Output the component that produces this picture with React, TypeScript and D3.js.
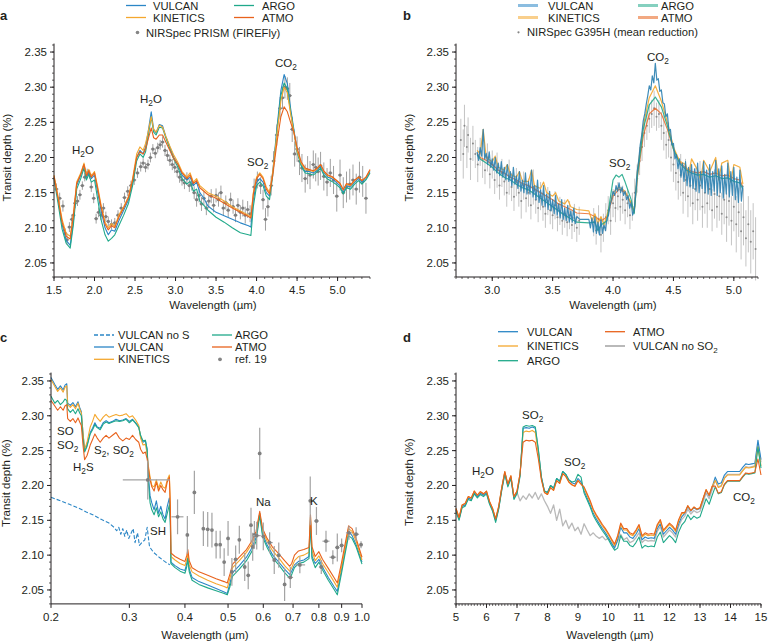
import * as d3 from "d3";

type P = [number, number];

const FONT = "'Liberation Sans', Arial, Helvetica, sans-serif";
const INK = "#231f20";
const FS = 11.5;
const LFS = 11.2;
const COL = {
  vulcan: "#2b86c6",
  kinetics: "#f4a72e",
  argo: "#20a98a",
  atmo: "#e8621c",
  obs: "#858585",
  noSO2: "#b9b9b9",
};

// ---------- panel a : NIRSpec PRISM ----------
const vulcanA: P[] = [
  [1.5, 2.172], [1.55, 2.14], [1.6, 2.105], [1.65, 2.082], [1.7, 2.075], [1.74, 2.11], [1.78, 2.16], [1.83, 2.175],
  [1.87, 2.19], [1.9, 2.172], [1.93, 2.18], [1.96, 2.17], [2.0, 2.175], [2.04, 2.15], [2.08, 2.125], [2.13, 2.1],
  [2.17, 2.09], [2.21, 2.097], [2.25, 2.095], [2.3, 2.11], [2.36, 2.125], [2.42, 2.14], [2.47, 2.165], [2.52, 2.2],
  [2.56, 2.21], [2.6, 2.205], [2.63, 2.215], [2.66, 2.235], [2.7, 2.265], [2.73, 2.24], [2.76, 2.235], [2.8, 2.247],
  [2.84, 2.245], [2.88, 2.23], [2.93, 2.215], [2.98, 2.2], [3.03, 2.19], [3.08, 2.175], [3.14, 2.168], [3.18, 2.172],
  [3.22, 2.16], [3.26, 2.165], [3.3, 2.15], [3.35, 2.142], [3.4, 2.131], [3.5, 2.122], [3.6, 2.117], [3.7, 2.112],
  [3.8, 2.107], [3.9, 2.103], [3.93, 2.101], [3.96, 2.14], [4.0, 2.165], [4.04, 2.17], [4.08, 2.165], [4.12, 2.15],
  [4.16, 2.145], [4.2, 2.18], [4.25, 2.24], [4.3, 2.295], [4.34, 2.318], [4.38, 2.305], [4.42, 2.27], [4.46, 2.24],
  [4.5, 2.21], [4.55, 2.19], [4.6, 2.18], [4.65, 2.18], [4.7, 2.178], [4.75, 2.182], [4.79, 2.188], [4.83, 2.178],
  [4.88, 2.172], [4.93, 2.17], [4.98, 2.165], [5.03, 2.16], [5.07, 2.15], [5.11, 2.16], [5.16, 2.158], [5.21, 2.165],
  [5.26, 2.17], [5.3, 2.165], [5.35, 2.17], [5.4, 2.18],
];
const argoA: P[] = [
  [1.5, 2.17], [1.55, 2.135], [1.6, 2.098], [1.65, 2.078], [1.7, 2.071], [1.74, 2.105], [1.78, 2.155], [1.83, 2.17],
  [1.87, 2.185], [1.9, 2.168], [1.93, 2.176], [1.96, 2.165], [2.0, 2.168], [2.04, 2.14], [2.08, 2.112], [2.13, 2.09],
  [2.17, 2.081], [2.21, 2.085], [2.25, 2.09], [2.3, 2.103], [2.36, 2.118], [2.42, 2.135], [2.47, 2.16], [2.52, 2.195],
  [2.56, 2.205], [2.6, 2.2], [2.63, 2.208], [2.66, 2.228], [2.7, 2.258], [2.73, 2.236], [2.76, 2.232], [2.8, 2.243],
  [2.84, 2.242], [2.88, 2.228], [2.93, 2.212], [2.98, 2.197], [3.03, 2.186], [3.08, 2.17], [3.14, 2.162], [3.18, 2.166],
  [3.22, 2.152], [3.26, 2.155], [3.3, 2.138], [3.35, 2.132], [3.4, 2.125], [3.5, 2.115], [3.6, 2.108], [3.7, 2.1],
  [3.8, 2.093], [3.9, 2.09], [3.93, 2.089], [3.96, 2.13], [4.0, 2.16], [4.04, 2.165], [4.08, 2.16], [4.12, 2.145],
  [4.16, 2.14], [4.2, 2.175], [4.25, 2.235], [4.3, 2.288], [4.34, 2.306], [4.38, 2.298], [4.42, 2.265], [4.46, 2.238],
  [4.5, 2.208], [4.55, 2.188], [4.6, 2.178], [4.65, 2.177], [4.7, 2.175], [4.75, 2.18], [4.79, 2.185], [4.83, 2.175],
  [4.88, 2.169], [4.93, 2.166], [4.98, 2.162], [5.03, 2.157], [5.07, 2.148], [5.11, 2.157], [5.16, 2.155], [5.21, 2.162],
  [5.26, 2.167], [5.3, 2.162], [5.35, 2.168], [5.4, 2.178],
];
const kineticsA: P[] = [
  [1.5, 2.175], [1.55, 2.145], [1.6, 2.112], [1.65, 2.092], [1.7, 2.088], [1.74, 2.12], [1.78, 2.165], [1.83, 2.178],
  [1.87, 2.192], [1.9, 2.176], [1.93, 2.183], [1.96, 2.174], [2.0, 2.18], [2.04, 2.158], [2.08, 2.133], [2.13, 2.108],
  [2.17, 2.1], [2.21, 2.106], [2.25, 2.102], [2.3, 2.118], [2.36, 2.13], [2.42, 2.145], [2.47, 2.17], [2.52, 2.205],
  [2.56, 2.215], [2.6, 2.21], [2.63, 2.22], [2.66, 2.235], [2.7, 2.258], [2.73, 2.24], [2.76, 2.236], [2.8, 2.246],
  [2.84, 2.243], [2.88, 2.23], [2.93, 2.216], [2.98, 2.203], [3.03, 2.193], [3.08, 2.18], [3.14, 2.172], [3.18, 2.178],
  [3.22, 2.165], [3.26, 2.17], [3.3, 2.16], [3.35, 2.155], [3.4, 2.15], [3.5, 2.145], [3.6, 2.138], [3.7, 2.13],
  [3.8, 2.124], [3.9, 2.118], [3.93, 2.116], [3.96, 2.15], [4.0, 2.172], [4.04, 2.178], [4.08, 2.172], [4.12, 2.158],
  [4.16, 2.15], [4.2, 2.18], [4.25, 2.232], [4.3, 2.28], [4.34, 2.3], [4.38, 2.292], [4.42, 2.262], [4.46, 2.236],
  [4.5, 2.21], [4.55, 2.192], [4.6, 2.183], [4.65, 2.182], [4.7, 2.18], [4.75, 2.184], [4.79, 2.19], [4.83, 2.18],
  [4.88, 2.174], [4.93, 2.172], [4.98, 2.168], [5.03, 2.163], [5.07, 2.154], [5.11, 2.162], [5.16, 2.16], [5.21, 2.167],
  [5.26, 2.172], [5.3, 2.167], [5.35, 2.172], [5.4, 2.182],
];
const atmoA: P[] = [
  [1.5, 2.173], [1.55, 2.142], [1.6, 2.108], [1.65, 2.088], [1.7, 2.084], [1.74, 2.118], [1.78, 2.163], [1.83, 2.176],
  [1.87, 2.19], [1.9, 2.174], [1.93, 2.181], [1.96, 2.172], [2.0, 2.178], [2.04, 2.155], [2.08, 2.13], [2.13, 2.105],
  [2.17, 2.097], [2.21, 2.103], [2.25, 2.1], [2.3, 2.115], [2.36, 2.128], [2.42, 2.143], [2.47, 2.168], [2.52, 2.2],
  [2.56, 2.208], [2.6, 2.205], [2.63, 2.212], [2.66, 2.225], [2.7, 2.242], [2.73, 2.228], [2.76, 2.226], [2.8, 2.232],
  [2.84, 2.232], [2.88, 2.222], [2.93, 2.21], [2.98, 2.198], [3.03, 2.19], [3.08, 2.178], [3.14, 2.17], [3.18, 2.175],
  [3.22, 2.163], [3.26, 2.167], [3.3, 2.157], [3.35, 2.152], [3.4, 2.147], [3.5, 2.142], [3.6, 2.135], [3.7, 2.128],
  [3.8, 2.122], [3.9, 2.116], [3.93, 2.114], [3.96, 2.148], [4.0, 2.17], [4.04, 2.176], [4.08, 2.17], [4.12, 2.155],
  [4.16, 2.148], [4.2, 2.175], [4.25, 2.22], [4.3, 2.258], [4.34, 2.272], [4.38, 2.265], [4.42, 2.25], [4.46, 2.236],
  [4.5, 2.214], [4.55, 2.194], [4.6, 2.185], [4.65, 2.183], [4.7, 2.181], [4.75, 2.185], [4.79, 2.19], [4.83, 2.181],
  [4.88, 2.175], [4.93, 2.173], [4.98, 2.168], [5.03, 2.163], [5.07, 2.154], [5.11, 2.163], [5.16, 2.161], [5.21, 2.168],
  [5.26, 2.172], [5.3, 2.167], [5.35, 2.172], [5.4, 2.183],
];
// wavelength, depth, error
const obsA: [number, number, number][] = [
  [1.53, 2.155, 0.008], [1.57, 2.142, 0.008], [1.61, 2.131, 0.008], [1.64, 2.092, 0.007], [1.66, 2.083, 0.007],
  [1.69, 2.101, 0.007], [1.72, 2.112, 0.007], [1.74, 2.118, 0.007], [1.76, 2.135, 0.007], [1.79, 2.138, 0.007],
  [1.82, 2.147, 0.007], [1.85, 2.16, 0.006], [1.88, 2.172, 0.006], [1.91, 2.178, 0.006], [1.94, 2.176, 0.006],
  [1.96, 2.158, 0.007], [1.99, 2.142, 0.007], [2.02, 2.113, 0.007], [2.05, 2.122, 0.007], [2.08, 2.118, 0.007],
  [2.11, 2.128, 0.007], [2.14, 2.116, 0.007], [2.17, 2.109, 0.007], [2.21, 2.105, 0.007], [2.25, 2.107, 0.007],
  [2.29, 2.118, 0.007], [2.33, 2.128, 0.007], [2.37, 2.143, 0.007], [2.41, 2.152, 0.007], [2.45, 2.16, 0.007],
  [2.49, 2.168, 0.007], [2.53, 2.178, 0.007], [2.57, 2.187, 0.007], [2.6, 2.192, 0.007], [2.63, 2.186, 0.007],
  [2.66, 2.19, 0.007], [2.69, 2.2, 0.007], [2.72, 2.212, 0.007], [2.75, 2.206, 0.007], [2.78, 2.214, 0.007],
  [2.81, 2.218, 0.007], [2.84, 2.222, 0.008], [2.87, 2.21, 0.008], [2.9, 2.203, 0.008], [2.93, 2.196, 0.008],
  [2.96, 2.19, 0.008], [2.99, 2.186, 0.008], [3.02, 2.18, 0.008], [3.05, 2.172, 0.008], [3.08, 2.168, 0.008],
  [3.11, 2.164, 0.009], [3.14, 2.17, 0.009], [3.17, 2.16, 0.009], [3.2, 2.162, 0.009], [3.23, 2.15, 0.009],
  [3.26, 2.14, 0.01], [3.29, 2.146, 0.01], [3.32, 2.134, 0.01], [3.35, 2.142, 0.01], [3.38, 2.128, 0.01],
  [3.41, 2.138, 0.01], [3.44, 2.145, 0.01], [3.47, 2.132, 0.01], [3.5, 2.146, 0.01], [3.53, 2.14, 0.01],
  [3.56, 2.15, 0.01], [3.59, 2.128, 0.01], [3.62, 2.136, 0.01], [3.65, 2.125, 0.01], [3.68, 2.14, 0.01],
  [3.71, 2.13, 0.01], [3.74, 2.118, 0.01], [3.77, 2.132, 0.01], [3.8, 2.122, 0.01], [3.83, 2.128, 0.012],
  [3.86, 2.118, 0.012], [3.89, 2.126, 0.012], [3.92, 2.12, 0.012], [3.97, 2.158, 0.012], [4.01, 2.168, 0.012],
  [4.05, 2.16, 0.012], [4.08, 2.14, 0.014], [4.11, 2.112, 0.016], [4.14, 2.13, 0.014], [4.18, 2.16, 0.014],
  [4.21, 2.195, 0.014], [4.25, 2.232, 0.015], [4.29, 2.27, 0.016], [4.32, 2.285, 0.016], [4.35, 2.3, 0.016],
  [4.38, 2.298, 0.016], [4.41, 2.288, 0.018], [4.44, 2.24, 0.018], [4.47, 2.205, 0.018], [4.5, 2.212, 0.018],
  [4.53, 2.195, 0.02], [4.56, 2.185, 0.02], [4.6, 2.17, 0.02], [4.63, 2.182, 0.02], [4.66, 2.175, 0.02],
  [4.7, 2.19, 0.02], [4.73, 2.186, 0.02], [4.76, 2.18, 0.02], [4.79, 2.188, 0.02], [4.83, 2.173, 0.02],
  [4.87, 2.165, 0.02], [4.91, 2.178, 0.02], [4.95, 2.168, 0.02], [4.99, 2.145, 0.022], [5.03, 2.175, 0.022],
  [5.07, 2.15, 0.022], [5.11, 2.158, 0.022], [5.15, 2.162, 0.022], [5.19, 2.168, 0.022], [5.23, 2.155, 0.022],
  [5.27, 2.172, 0.022], [5.31, 2.166, 0.022], [5.35, 2.142, 0.022],
];

// ---------- panel b : NIRSpec G395H ----------
const vulcanB: P[] = [
  [2.875, 2.208], [2.8875, 2.196], [2.9, 2.214], [2.9125, 2.202], [2.925, 2.24], [2.9375, 2.198], [2.95, 2.206],
  [2.9625, 2.19], [2.975, 2.208], [2.9875, 2.186], [3.0, 2.198], [3.0125, 2.182], [3.025, 2.2], [3.0375, 2.178],
  [3.05, 2.192], [3.0625, 2.174], [3.075, 2.194], [3.0875, 2.172], [3.1, 2.186], [3.1125, 2.168], [3.125, 2.19],
  [3.1375, 2.166], [3.15, 2.18], [3.1625, 2.16], [3.175, 2.186], [3.1875, 2.162], [3.2, 2.174], [3.2125, 2.156],
  [3.225, 2.18], [3.2375, 2.152], [3.25, 2.168], [3.2625, 2.15], [3.275, 2.178], [3.2875, 2.148], [3.3, 2.166],
  [3.3125, 2.148], [3.325, 2.182], [3.3375, 2.144], [3.35, 2.16], [3.3625, 2.14], [3.375, 2.168], [3.3875, 2.136],
  [3.4, 2.154], [3.4125, 2.132], [3.425, 2.16], [3.4375, 2.13], [3.45, 2.148], [3.4625, 2.126], [3.475, 2.152],
  [3.4875, 2.124], [3.5, 2.14], [3.5125, 2.12], [3.525, 2.146], [3.5375, 2.118], [3.55, 2.134], [3.5625, 2.114],
  [3.575, 2.14], [3.5875, 2.112], [3.6, 2.128], [3.6125, 2.11], [3.625, 2.132], [3.6375, 2.108], [3.65, 2.124],
  [3.6625, 2.108], [3.675, 2.128], [3.6875, 2.106], [3.7, 2.116], [3.725, 2.112], [3.8, 2.112], [3.8125, 2.1],
  [3.825, 2.114], [3.8375, 2.094], [3.85, 2.116], [3.8625, 2.092], [3.875, 2.108], [3.8875, 2.09], [3.9, 2.112],
  [3.9125, 2.092], [3.925, 2.104], [3.9375, 2.096], [3.95, 2.114], [3.9625, 2.118], [3.975, 2.132], [3.9875, 2.14],
  [4.0, 2.152], [4.0125, 2.146], [4.025, 2.16], [4.0375, 2.152], [4.05, 2.164], [4.0625, 2.15], [4.075, 2.158],
  [4.0875, 2.146], [4.1, 2.152], [4.1125, 2.14], [4.125, 2.146], [4.1375, 2.128], [4.15, 2.136], [4.1625, 2.118],
  [4.175, 2.124], [4.1875, 2.15], [4.2, 2.18], [4.2125, 2.196], [4.225, 2.218], [4.2375, 2.232], [4.25, 2.252],
  [4.2625, 2.262], [4.275, 2.276], [4.2875, 2.288], [4.3, 2.302], [4.3125, 2.296], [4.325, 2.316], [4.3375, 2.306],
  [4.35, 2.334], [4.3625, 2.31], [4.375, 2.312], [4.3875, 2.294], [4.4, 2.296], [4.4125, 2.278], [4.425, 2.276],
  [4.4375, 2.258], [4.45, 2.262], [4.4625, 2.238], [4.475, 2.24], [4.4875, 2.218], [4.5, 2.22], [4.5125, 2.198],
  [4.525, 2.204], [4.5375, 2.184], [4.55, 2.198], [4.5625, 2.172], [4.575, 2.192], [4.5875, 2.166], [4.6, 2.194],
  [4.6125, 2.16], [4.625, 2.186], [4.6375, 2.158], [4.65, 2.19], [4.6625, 2.156], [4.675, 2.184], [4.6875, 2.152],
  [4.7, 2.192], [4.7125, 2.15], [4.725, 2.18], [4.7375, 2.156], [4.75, 2.194], [4.7625, 2.15], [4.775, 2.182],
  [4.7875, 2.148], [4.8, 2.19], [4.8125, 2.146], [4.825, 2.18], [4.8375, 2.152], [4.85, 2.196], [4.8625, 2.146],
  [4.875, 2.184], [4.8875, 2.15], [4.9, 2.188], [4.9125, 2.142], [4.925, 2.176], [4.9375, 2.148], [4.95, 2.192],
  [4.9625, 2.144], [4.975, 2.18], [4.9875, 2.146], [5.0, 2.186], [5.0125, 2.14], [5.025, 2.172], [5.0375, 2.136],
  [5.05, 2.182], [5.0625, 2.138], [5.075, 2.16],
];
const kineticsB: P[] = [
  [2.875, 2.21], [2.9, 2.205], [2.925, 2.24], [2.95, 2.2], [3.0, 2.194], [3.025, 2.202], [3.05, 2.186], [3.1, 2.182],
  [3.125, 2.19], [3.15, 2.176], [3.2, 2.172], [3.225, 2.18], [3.25, 2.166], [3.3, 2.166], [3.325, 2.182], [3.35, 2.16],
  [3.4, 2.156], [3.425, 2.165], [3.45, 2.15], [3.5, 2.145], [3.525, 2.15], [3.55, 2.138], [3.6, 2.134], [3.625, 2.14],
  [3.65, 2.13], [3.7, 2.126], [3.8, 2.124], [3.825, 2.11], [3.85, 2.12], [3.875, 2.106], [3.9, 2.116], [3.925, 2.104],
  [3.95, 2.118], [4.0, 2.15], [4.05, 2.158], [4.1, 2.152], [4.15, 2.135], [4.175, 2.122], [4.2, 2.178], [4.25, 2.245],
  [4.3, 2.285], [4.35, 2.302], [4.4, 2.28], [4.45, 2.25], [4.5, 2.215], [4.55, 2.195], [4.6, 2.19], [4.625, 2.175],
  [4.65, 2.198], [4.7, 2.182], [4.725, 2.168], [4.75, 2.196], [4.8, 2.18], [4.85, 2.2], [4.875, 2.168], [4.9, 2.192],
  [4.95, 2.196], [4.975, 2.165], [5.0, 2.19], [5.05, 2.186], [5.075, 2.162],
];
const argoB: P[] = [
  [2.875, 2.204], [2.9, 2.198], [2.95, 2.192], [3.0, 2.186], [3.05, 2.178], [3.1, 2.172], [3.15, 2.168], [3.2, 2.162],
  [3.25, 2.157], [3.3, 2.154], [3.35, 2.148], [3.4, 2.142], [3.45, 2.136], [3.5, 2.13], [3.55, 2.124], [3.6, 2.118],
  [3.65, 2.113], [3.7, 2.108], [3.8, 2.107], [3.85, 2.108], [3.875, 2.096], [3.9, 2.104], [3.95, 2.11], [3.975, 2.14],
  [4.0, 2.168], [4.025, 2.175], [4.05, 2.172], [4.075, 2.176], [4.1, 2.165], [4.15, 2.14], [4.175, 2.12], [4.2, 2.172],
  [4.25, 2.24], [4.3, 2.275], [4.35, 2.286], [4.4, 2.272], [4.45, 2.245], [4.5, 2.212], [4.55, 2.192], [4.6, 2.183],
  [4.65, 2.178], [4.7, 2.175], [4.75, 2.176], [4.8, 2.172], [4.85, 2.174], [4.9, 2.17], [4.95, 2.171], [5.0, 2.166],
  [5.05, 2.164], [5.075, 2.155],
];
const atmoB: P[] = [
  [2.875, 2.206], [2.9, 2.2], [2.95, 2.196], [3.0, 2.19], [3.05, 2.182], [3.1, 2.178], [3.15, 2.172], [3.2, 2.168],
  [3.25, 2.163], [3.3, 2.16], [3.35, 2.155], [3.4, 2.15], [3.45, 2.145], [3.5, 2.14], [3.55, 2.134], [3.6, 2.13],
  [3.65, 2.126], [3.7, 2.121], [3.8, 2.12], [3.85, 2.116], [3.9, 2.11], [3.95, 2.115], [4.0, 2.145], [4.05, 2.155],
  [4.1, 2.15], [4.15, 2.135], [4.175, 2.122], [4.2, 2.17], [4.25, 2.23], [4.3, 2.262], [4.35, 2.27], [4.4, 2.262],
  [4.45, 2.24], [4.5, 2.212], [4.55, 2.194], [4.6, 2.185], [4.65, 2.18], [4.7, 2.178], [4.75, 2.18], [4.8, 2.176],
  [4.85, 2.178], [4.9, 2.174], [4.95, 2.175], [5.0, 2.17], [5.05, 2.168], [5.075, 2.158],
];
const obsB: [number, number, number][] = [
  [2.74, 2.225, 0.03], [2.76, 2.205, 0.035], [2.77, 2.245, 0.03], [2.79, 2.215, 0.03], [2.8, 2.232, 0.025],
  [2.82, 2.198, 0.03], [2.84, 2.22, 0.025], [2.86, 2.205, 0.02], [2.88, 2.19, 0.025], [2.9, 2.208, 0.02],
  [2.92, 2.196, 0.025], [2.94, 2.182, 0.02], [2.96, 2.2, 0.02], [2.98, 2.176, 0.02], [3.0, 2.19, 0.02],
  [3.02, 2.168, 0.02], [3.04, 2.182, 0.025], [3.06, 2.16, 0.02], [3.08, 2.178, 0.02], [3.1, 2.166, 0.02],
  [3.12, 2.15, 0.02], [3.14, 2.172, 0.025], [3.16, 2.158, 0.02], [3.18, 2.144, 0.02], [3.2, 2.165, 0.02],
  [3.22, 2.15, 0.02], [3.24, 2.138, 0.025], [3.26, 2.16, 0.02], [3.28, 2.142, 0.02], [3.3, 2.15, 0.02],
  [3.32, 2.132, 0.02], [3.34, 2.158, 0.025], [3.36, 2.14, 0.02], [3.38, 2.128, 0.02], [3.4, 2.145, 0.02],
  [3.42, 2.13, 0.02], [3.44, 2.12, 0.02], [3.46, 2.138, 0.02], [3.48, 2.125, 0.02], [3.5, 2.118, 0.02],
  [3.52, 2.132, 0.02], [3.54, 2.115, 0.02], [3.56, 2.124, 0.02], [3.58, 2.11, 0.02], [3.6, 2.12, 0.02],
  [3.62, 2.108, 0.02], [3.64, 2.118, 0.02], [3.66, 2.104, 0.02], [3.68, 2.114, 0.02], [3.7, 2.1, 0.02],
  [3.72, 2.11, 0.02], [3.84, 2.108, 0.02], [3.86, 2.096, 0.02], [3.88, 2.112, 0.02], [3.9, 2.09, 0.025],
  [3.92, 2.1, 0.02], [3.94, 2.115, 0.02], [3.96, 2.125, 0.02], [3.98, 2.11, 0.02], [4.0, 2.135, 0.02],
  [4.02, 2.128, 0.02], [4.04, 2.145, 0.02], [4.06, 2.13, 0.02], [4.08, 2.14, 0.02], [4.1, 2.125, 0.02],
  [4.12, 2.135, 0.02], [4.14, 2.118, 0.02], [4.16, 2.13, 0.02], [4.18, 2.15, 0.02], [4.2, 2.17, 0.02],
  [4.22, 2.195, 0.02], [4.24, 2.215, 0.02], [4.26, 2.235, 0.02], [4.28, 2.245, 0.02], [4.3, 2.255, 0.02],
  [4.32, 2.262, 0.02], [4.34, 2.27, 0.025], [4.36, 2.258, 0.02], [4.38, 2.262, 0.02], [4.4, 2.245, 0.02],
  [4.42, 2.235, 0.025], [4.44, 2.218, 0.02], [4.46, 2.225, 0.025], [4.48, 2.2, 0.02], [4.5, 2.19, 0.025],
  [4.52, 2.178, 0.025], [4.54, 2.165, 0.025], [4.56, 2.175, 0.03], [4.58, 2.15, 0.03], [4.6, 2.168, 0.03],
  [4.62, 2.145, 0.03], [4.64, 2.16, 0.03], [4.66, 2.135, 0.03], [4.68, 2.155, 0.03], [4.7, 2.14, 0.03],
  [4.72, 2.16, 0.035], [4.74, 2.13, 0.03], [4.76, 2.15, 0.03], [4.78, 2.135, 0.035], [4.8, 2.155, 0.03],
  [4.82, 2.125, 0.03], [4.84, 2.148, 0.035], [4.86, 2.13, 0.03], [4.88, 2.145, 0.035], [4.9, 2.12, 0.03],
  [4.92, 2.14, 0.035], [4.94, 2.115, 0.035], [4.96, 2.138, 0.035], [4.98, 2.11, 0.035], [5.0, 2.13, 0.035],
  [5.02, 2.105, 0.04], [5.04, 2.122, 0.035], [5.06, 2.095, 0.04], [5.08, 2.115, 0.04], [5.1, 2.085, 0.04],
  [5.12, 2.105, 0.04], [5.14, 2.08, 0.045], [5.16, 2.095, 0.04], [5.18, 2.07, 0.045],
];

// ---------- panel c : optical ----------
const waveC = [
  0.2, 0.204, 0.207, 0.21, 0.213, 0.215, 0.217, 0.218, 0.221, 0.224, 0.227, 0.23, 0.232, 0.234, 0.236, 0.238,
  0.241, 0.245, 0.248, 0.251, 0.254, 0.258, 0.262, 0.266, 0.27, 0.275, 0.28, 0.285, 0.29, 0.295, 0.3, 0.305,
  0.31, 0.315, 0.318, 0.322, 0.326, 0.329, 0.331, 0.334, 0.337, 0.341, 0.345, 0.349, 0.353, 0.357, 0.361, 0.365,
  0.369, 0.371, 0.372, 0.38, 0.39, 0.4, 0.404, 0.406, 0.409, 0.415, 0.43, 0.45, 0.47, 0.49, 0.498, 0.505,
  0.512, 0.53, 0.55, 0.565, 0.578, 0.589, 0.598, 0.612, 0.63, 0.65, 0.67, 0.688, 0.695, 0.705, 0.72, 0.74,
  0.76, 0.766, 0.772, 0.785, 0.8, 0.815, 0.84, 0.865, 0.88, 0.9, 0.915, 0.933, 0.95, 0.97, 1.0,
];
const vulcanC = [
  2.355, 2.345, 2.338, 2.343, 2.337, 2.344, 2.346, 2.318, 2.315, 2.319, 2.313, 2.32, 2.312, 2.306, 2.275, 2.25,
  2.258, 2.276, 2.282, 2.29, 2.284, 2.282, 2.29, 2.293, 2.29, 2.292, 2.295, 2.293, 2.294, 2.296, 2.292, 2.295,
  2.29, 2.284, 2.27, 2.262, 2.264, 2.252, 2.215, 2.185, 2.175, 2.165, 2.178, 2.16, 2.17, 2.158, 2.152, 2.17,
  2.182, 2.15, 2.09, 2.085, 2.08, 2.078, 2.088, 2.098, 2.08, 2.068, 2.062, 2.057, 2.052, 2.047, 2.045, 2.06,
  2.075, 2.085, 2.097, 2.11, 2.125, 2.16, 2.13, 2.115, 2.1, 2.09, 2.08, 2.072, 2.077, 2.086, 2.091, 2.093,
  2.098, 2.15, 2.098, 2.088, 2.094, 2.083, 2.068, 2.055, 2.048, 2.08, 2.105, 2.134, 2.128, 2.115, 2.09,
];
const kineticsC = [
  2.352, 2.342, 2.335, 2.34, 2.334, 2.341, 2.343, 2.316, 2.312, 2.316, 2.31, 2.318, 2.31, 2.304, 2.276, 2.252,
  2.262, 2.284, 2.292, 2.302, 2.297, 2.292, 2.298, 2.302, 2.298, 2.3, 2.302, 2.3, 2.301, 2.303, 2.298, 2.3,
  2.294, 2.286, 2.268, 2.258, 2.259, 2.245, 2.228, 2.212, 2.2, 2.198, 2.208, 2.196, 2.205, 2.198, 2.196, 2.208,
  2.215, 2.17, 2.098, 2.093, 2.088, 2.085, 2.094, 2.102, 2.086, 2.076, 2.07, 2.064, 2.059, 2.055, 2.053, 2.067,
  2.082, 2.092, 2.104, 2.116, 2.13, 2.16, 2.134, 2.12, 2.106, 2.096, 2.085, 2.077, 2.082, 2.092, 2.098, 2.1,
  2.104, 2.155, 2.106, 2.092, 2.099, 2.088, 2.075, 2.062, 2.054, 2.084, 2.108, 2.138, 2.134, 2.12, 2.093,
];
const argoC = [
  2.328, 2.318, 2.322, 2.316, 2.32, 2.324, 2.322, 2.31, 2.305, 2.309, 2.303, 2.31, 2.304, 2.3, 2.268, 2.248,
  2.256, 2.274, 2.28, 2.287, 2.283, 2.28, 2.288, 2.291, 2.289, 2.291, 2.293, 2.292, 2.293, 2.295, 2.29, 2.294,
  2.289, 2.283, 2.272, 2.264, 2.265, 2.25, 2.205, 2.175, 2.165, 2.158, 2.168, 2.155, 2.162, 2.152, 2.147, 2.16,
  2.172, 2.142, 2.088, 2.082, 2.077, 2.074, 2.084, 2.095, 2.076, 2.064, 2.058, 2.053, 2.049, 2.045, 2.043, 2.055,
  2.07, 2.08, 2.092, 2.105, 2.12, 2.157, 2.126, 2.111, 2.096, 2.086, 2.075, 2.067, 2.072, 2.082, 2.088, 2.09,
  2.095, 2.145, 2.095, 2.082, 2.09, 2.079, 2.064, 2.051, 2.043, 2.075, 2.1, 2.128, 2.124, 2.112, 2.087,
];
const atmoC = [
  2.322, 2.314, 2.308, 2.313, 2.308, 2.314, 2.316, 2.296, 2.292, 2.296, 2.29, 2.297, 2.291, 2.286, 2.258, 2.237,
  2.243, 2.258, 2.266, 2.274, 2.268, 2.262, 2.268, 2.272, 2.268, 2.272, 2.276, 2.268, 2.264, 2.268, 2.266, 2.272,
  2.266, 2.262, 2.252, 2.246, 2.248, 2.238, 2.225, 2.208, 2.198, 2.192, 2.205, 2.192, 2.2, 2.194, 2.19, 2.205,
  2.212, 2.165, 2.103, 2.098, 2.094, 2.091, 2.1, 2.108, 2.092, 2.082, 2.076, 2.071, 2.066, 2.062, 2.06, 2.073,
  2.087, 2.097, 2.108, 2.12, 2.134, 2.163, 2.138, 2.124, 2.111, 2.102, 2.092, 2.084, 2.088, 2.1, 2.106, 2.108,
  2.111, 2.158, 2.112, 2.098, 2.105, 2.094, 2.081, 2.068, 2.06, 2.09, 2.114, 2.142, 2.138, 2.124, 2.097,
];
const vulcanNoS: P[] = [
  [0.2, 2.183], [0.21, 2.178], [0.22, 2.173], [0.23, 2.168], [0.24, 2.162], [0.25, 2.157], [0.26, 2.151],
  [0.27, 2.146], [0.277, 2.14], [0.281, 2.135], [0.284, 2.14], [0.287, 2.13], [0.29, 2.138], [0.293, 2.127],
  [0.296, 2.136], [0.299, 2.124], [0.303, 2.132], [0.306, 2.138], [0.309, 2.118], [0.313, 2.132], [0.316, 2.114],
  [0.32, 2.118], [0.325, 2.122], [0.329, 2.14], [0.333, 2.112], [0.34, 2.104], [0.35, 2.097], [0.36, 2.091],
  [0.37, 2.086],
];
// wavelength, depth, depth error, wavelength half-width
const obsC: [number, number, number, number][] = [
  [0.33, 2.208, 0.028, 0.04], [0.385, 2.155, 0.025, 0.012], [0.405, 2.129, 0.027, 0], [0.42, 2.19, 0.031, 0],
  [0.44, 2.138, 0.025, 0], [0.45, 2.137, 0.025, 0], [0.46, 2.136, 0.025, 0], [0.47, 2.115, 0.02, 0],
  [0.48, 2.115, 0.02, 0], [0.49, 2.09, 0.02, 0], [0.5, 2.124, 0.025, 0], [0.51, 2.076, 0.02, 0],
  [0.52, 2.094, 0.02, 0], [0.53, 2.122, 0.02, 0], [0.545, 2.083, 0.02, 0], [0.555, 2.071, 0.02, 0],
  [0.563, 2.143, 0.025, 0], [0.568, 2.112, 0.02, 0], [0.573, 2.129, 0.02, 0], [0.58, 2.128, 0.02, 0.012],
  [0.589, 2.246, 0.037, 0], [0.6, 2.127, 0.02, 0], [0.62, 2.118, 0.015, 0.01], [0.635, 2.093, 0.02, 0],
  [0.65, 2.1, 0.018, 0], [0.67, 2.058, 0.024, 0], [0.69, 2.068, 0.015, 0.01], [0.725, 2.086, 0.012, 0.02],
  [0.765, 2.178, 0.035, 0], [0.79, 2.149, 0.02, 0.01], [0.81, 2.083, 0.01, 0.01], [0.83, 2.12, 0.015, 0.015],
  [0.86, 2.097, 0.01, 0.015], [0.88, 2.111, 0.02, 0.01], [0.9, 2.114, 0.01, 0.01], [0.935, 2.132, 0.01, 0.015],
  [0.97, 2.13, 0.01, 0.015], [0.995, 2.115, 0.005, 0.008],
];

// ---------- panel d : MIRI ----------
const waveD = [
  5.0, 5.1, 5.2, 5.3, 5.4, 5.5, 5.6, 5.7, 5.8, 5.9, 6.0, 6.1, 6.2, 6.3, 6.4, 6.5, 6.6, 6.7, 6.8, 6.9,
  7.0, 7.1, 7.2, 7.3, 7.4, 7.5, 7.6, 7.7, 7.8, 7.9, 8.0, 8.1, 8.2, 8.3, 8.4, 8.5, 8.6, 8.7, 8.8, 8.9,
  9.0, 9.1, 9.2, 9.3, 9.4, 9.5, 9.6, 9.7, 9.8, 9.9, 10.0, 10.1, 10.2, 10.3, 10.4, 10.5, 10.6, 10.7, 10.8, 10.9,
  11.0, 11.1, 11.2, 11.3, 11.4, 11.5, 11.6, 11.7, 11.8, 11.9, 12.0, 12.1, 12.2, 12.3, 12.4, 12.5, 12.6, 12.7, 12.8, 12.9,
  13.0, 13.1, 13.2, 13.3, 13.4, 13.5, 13.6, 13.7, 13.8, 13.9, 14.0, 14.1, 14.2, 14.3, 14.4, 14.5, 14.6, 14.7, 14.8, 14.9,
  15.0,
];
const vulcanD = [
  2.165, 2.152, 2.17, 2.172, 2.182, 2.18, 2.19, 2.184, 2.189, 2.186, 2.19, 2.175, 2.165, 2.15, 2.168, 2.195, 2.218, 2.2, 2.212, 2.182,
  2.19, 2.215, 2.282, 2.283, 2.282, 2.284, 2.282, 2.25, 2.212, 2.192, 2.19, 2.2, 2.196, 2.21, 2.206, 2.22, 2.216, 2.208, 2.204, 2.202,
  2.21, 2.205, 2.192, 2.182, 2.172, 2.16, 2.152, 2.145, 2.138, 2.132, 2.125, 2.117, 2.11, 2.122, 2.14, 2.132, 2.132, 2.126, 2.124, 2.13,
  2.138, 2.122, 2.126, 2.124, 2.125, 2.124, 2.138, 2.145, 2.13, 2.135, 2.14, 2.136, 2.13, 2.145, 2.155, 2.16, 2.17, 2.163, 2.168, 2.165,
  2.167, 2.18, 2.193, 2.185, 2.198, 2.212, 2.202, 2.204, 2.215, 2.22, 2.22, 2.22, 2.22, 2.22, 2.226, 2.231, 2.23, 2.231, 2.232, 2.265,
  2.237,
];
const kineticsD = [
  2.167, 2.154, 2.172, 2.174, 2.184, 2.182, 2.192, 2.186, 2.191, 2.188, 2.192, 2.177, 2.167, 2.152, 2.17, 2.197, 2.22, 2.202, 2.214, 2.184,
  2.192, 2.217, 2.276, 2.278, 2.277, 2.279, 2.276, 2.246, 2.21, 2.19, 2.187, 2.197, 2.193, 2.207, 2.203, 2.217, 2.213, 2.205, 2.201, 2.199,
  2.207, 2.202, 2.196, 2.186, 2.176, 2.164, 2.156, 2.149, 2.142, 2.136, 2.129, 2.121, 2.114, 2.126, 2.144, 2.136, 2.136, 2.13, 2.128, 2.134,
  2.142, 2.126, 2.13, 2.128, 2.129, 2.128, 2.142, 2.149, 2.134, 2.139, 2.144, 2.14, 2.134, 2.149, 2.159, 2.161, 2.171, 2.164, 2.169, 2.166,
  2.168, 2.181, 2.194, 2.186, 2.199, 2.207, 2.197, 2.199, 2.21, 2.215, 2.215, 2.215, 2.215, 2.215, 2.221, 2.226, 2.225, 2.226, 2.227, 2.255,
  2.228,
];
const argoD = [
  2.163, 2.15, 2.168, 2.17, 2.18, 2.178, 2.188, 2.182, 2.187, 2.184, 2.188, 2.173, 2.163, 2.147, 2.166, 2.193, 2.216, 2.198, 2.21, 2.18,
  2.188, 2.213, 2.284, 2.286, 2.285, 2.286, 2.284, 2.252, 2.212, 2.192, 2.19, 2.2, 2.196, 2.21, 2.206, 2.22, 2.216, 2.208, 2.205, 2.206,
  2.216, 2.212, 2.189, 2.179, 2.169, 2.157, 2.149, 2.142, 2.135, 2.129, 2.122, 2.114, 2.107, 2.11, 2.128, 2.12, 2.12, 2.114, 2.112, 2.118,
  2.126, 2.11, 2.114, 2.112, 2.113, 2.112, 2.126, 2.133, 2.118, 2.123, 2.128, 2.124, 2.118, 2.133, 2.143, 2.148, 2.158, 2.151, 2.156, 2.153,
  2.155, 2.168, 2.181, 2.173, 2.186, 2.198, 2.188, 2.19, 2.201, 2.206, 2.206, 2.206, 2.206, 2.206, 2.212, 2.217, 2.216, 2.217, 2.218, 2.255,
  2.225,
];
const atmoD = [
  2.167, 2.154, 2.172, 2.174, 2.184, 2.182, 2.192, 2.186, 2.191, 2.188, 2.192, 2.177, 2.167, 2.152, 2.17, 2.197, 2.22, 2.202, 2.214, 2.184,
  2.192, 2.217, 2.262, 2.265, 2.264, 2.265, 2.262, 2.238, 2.208, 2.19, 2.187, 2.197, 2.193, 2.207, 2.203, 2.217, 2.213, 2.205, 2.201, 2.199,
  2.207, 2.202, 2.198, 2.188, 2.178, 2.166, 2.158, 2.151, 2.144, 2.138, 2.131, 2.123, 2.116, 2.128, 2.146, 2.138, 2.138, 2.132, 2.13, 2.136,
  2.144, 2.128, 2.132, 2.13, 2.131, 2.13, 2.144, 2.151, 2.136, 2.141, 2.146, 2.142, 2.136, 2.151, 2.161, 2.161, 2.171, 2.164, 2.169, 2.166,
  2.168, 2.181, 2.194, 2.186, 2.199, 2.199, 2.189, 2.191, 2.202, 2.207, 2.207, 2.207, 2.207, 2.207, 2.213, 2.218, 2.217, 2.218, 2.219, 2.238,
  2.215,
];
const noSO2D = [
  2.165, 2.152, 2.17, 2.172, 2.182, 2.18, 2.19, 2.184, 2.189, 2.186, 2.19, 2.175, 2.165, 2.15, 2.168, 2.195, 2.218, 2.2, 2.212, 2.182,
  2.19, 2.178, 2.185, 2.18, 2.188, 2.182, 2.19, 2.18, 2.188, 2.178, 2.17, 2.16, 2.172, 2.15, 2.166, 2.142, 2.15, 2.138, 2.146, 2.135,
  2.14, 2.13, 2.145, 2.136, 2.128, 2.132, 2.127, 2.124, 2.127, 2.122, 2.124, 2.118, 2.112, 2.12, 2.13, 2.122, 2.125, 2.118, 2.12, 2.125,
  2.132, 2.118, 2.122, 2.12, 2.121, 2.12, 2.134, 2.141, 2.126, 2.131, 2.136, 2.132, 2.126, 2.141, 2.151, 2.156, 2.166, 2.159, 2.164, 2.161,
  2.163, 2.176, 2.189, 2.181, 2.194, 2.208, 2.198, 2.2, 2.211, 2.216, 2.216, 2.216, 2.216, 2.216, 2.222, 2.227, 2.226, 2.227, 2.228, 2.26,
  2.233,
];

// ---------- ticks ----------
const yTicks = [2.05, 2.1, 2.15, 2.2, 2.25, 2.3, 2.35];
const xTicksA = [1.5, 2.0, 2.5, 3.0, 3.5, 4.0, 4.5, 5.0];
const xTicksB = [3.0, 3.5, 4.0, 4.5, 5.0];
const xTicksC = [0.2, 0.3, 0.4, 0.5, 0.6, 0.7, 0.8, 0.9, 1.0];
const xTicksD = [5, 6, 7, 8, 9, 10, 11, 12, 13, 14, 15];

// ---------- scales ----------
const yDom: [number, number] = [2.03, 2.362];
const sxA = d3.scaleLinear().domain([1.5, 5.4]).range([54, 370]);
const sxB = d3.scaleLinear().domain([2.7, 5.2]).range([456, 758]);
const syTop = d3.scaleLinear().domain(yDom).range([277, 43.6]);
const sxC = d3.scaleLog().domain([0.2, 1.0]).range([51, 362]);
const sxD = d3.scaleLinear().domain([5, 15]).range([456, 761]);
const syBot = d3.scaleLinear().domain(yDom).range([603.9, 372.6]);

const zipGrid = (w: number[], v: number[]): P[] => w.map((x, i) => [x, v[i]] as P);

function Chem({ s, x, y, size = FS }: { s: string; x: number; y: number; size?: number }) {
  const parts = s.split(/(_\d)/).filter(Boolean);
  return (
    <text x={x} y={y} fontSize={size} fill={INK}>
      {parts.map((p, i) => {
        if (p.startsWith("_")) {
          return (
            <tspan key={i} dy={3} fontSize={size * 0.72}>
              {p.slice(1)}
            </tspan>
          );
        }
        const after = i > 0 && parts[i - 1].startsWith("_");
        return (
          <tspan key={i} dy={after ? -3 : 0}>
            {p}
          </tspan>
        );
      })}
    </text>
  );
}

function Axes({ sx, sy, xTicks, xMinor, fmt }: { sx: any; sy: any; xTicks: number[]; xMinor: number[]; fmt: (v: number) => string }) {
  const [x0, x1] = sx.range();
  const [yb, yt] = sy.range();
  const yMinor = d3.range(2.03, 2.3625, 0.01);
  return (
    <g stroke={INK} fill="none">
      <line x1={x0} x2={x0} y1={yt} y2={yb} strokeWidth={1} />
      <line x1={x0} x2={x1} y1={yb} y2={yb} strokeWidth={1} />
      {yMinor.map((v, i) => (
        <line key={"ym" + i} x1={x0 - 2} x2={x0} y1={sy(v)} y2={sy(v)} strokeWidth={0.7} />
      ))}
      {yTicks.map((v) => (
        <g key={"y" + v}>
          <line x1={x0 - 4} x2={x0} y1={sy(v)} y2={sy(v)} strokeWidth={1} />
          <text x={x0 - 7} y={sy(v)} dy="0.35em" textAnchor="end" stroke="none" fill={INK} fontSize={FS}>
            {v.toFixed(2)}
          </text>
        </g>
      ))}
      {xMinor.map((v, i) => (
        <line key={"xm" + i} x1={sx(v)} x2={sx(v)} y1={yb} y2={yb + 2} strokeWidth={0.7} />
      ))}
      {xTicks.map((v) => (
        <g key={"x" + v}>
          <line x1={sx(v)} x2={sx(v)} y1={yb} y2={yb + 4} strokeWidth={1} />
          <text x={sx(v)} y={yb + 17} textAnchor="middle" stroke="none" fill={INK} fontSize={FS}>
            {fmt(v)}
          </text>
        </g>
      ))}
    </g>
  );
}

function Series({ pts, sx, sy, color, width = 1.1, dash, opacity = 1 }: { pts: P[]; sx: any; sy: any; color: string; width?: number; dash?: string; opacity?: number }) {
  const gen = d3
    .line<P>()
    .x((d) => sx(d[0]))
    .y((d) => sy(d[1]));
  return <path d={gen(pts) ?? ""} fill="none" stroke={color} strokeWidth={width} strokeDasharray={dash} strokeOpacity={opacity} strokeLinejoin="round" />;
}

function LegLine({ x, y, color, w = 20, width = 1.3, dash, opacity = 1 }: { x: number; y: number; color: string; w?: number; width?: number; dash?: string; opacity?: number }) {
  return <line x1={x} x2={x + w} y1={y} y2={y} stroke={color} strokeWidth={width} strokeDasharray={dash} strokeOpacity={opacity} />;
}

function LegText({ x, y, s }: { x: number; y: number; s: string }) {
  return <Chem s={s} x={x} y={y + 4} size={LFS} />;
}

function YTitle({ x, y }: { x: number; y: number }) {
  return (
    <text transform={`translate(${x},${y}) rotate(-90)`} textAnchor="middle" dominantBaseline="central" fontSize={FS} fill={INK}>
      Transit depth (%)
    </text>
  );
}

function XTitle({ x, y }: { x: number; y: number }) {
  return (
    <text x={x} y={y} textAnchor="middle" fontSize={FS} fill={INK}>
      Wavelength (µm)
    </text>
  );
}

export default function App() {
  const f1 = (v: number) => v.toFixed(1);
  const f0 = (v: number) => String(v);

  return (
    <svg width={771} height={644} viewBox="0 0 771 644" style={{ position: "absolute", left: 0, top: 0, background: "#fff" }} fontFamily={FONT}>
      <rect width={771} height={644} fill="#fff" />

      {/* ---------------- a ---------------- */}
      <text x={0} y={20} fontSize={13} fontWeight="bold" fill={INK}>a</text>
      <LegLine x={126} y={5.5} color={COL.vulcan} />
      <LegText x={153} y={5.5} s="VULCAN" />
      <LegLine x={126} y={17.5} color={COL.kinetics} />
      <LegText x={153} y={17.5} s="KINETICS" />
      <LegLine x={234} y={5.5} color={COL.argo} />
      <LegText x={262} y={5.5} s="ARGO" />
      <LegLine x={234} y={17.5} color={COL.atmo} />
      <LegText x={262} y={17.5} s="ATMO" />
      <circle cx={137.5} cy={32.5} r={1.8} fill={COL.obs} />
      <LegText x={146} y={32.5} s="NIRSpec PRISM (FIREFly)" />

      <g>
        {obsA.map(([w, v, e], i) => (
          <g key={i} stroke="#a0a0a0" strokeWidth={1}>
            <line x1={sxA(w)} x2={sxA(w)} y1={syTop(v - e)} y2={syTop(v + e)} />
            <line x1={sxA(w) - 2} x2={sxA(w) + 2} y1={syTop(v)} y2={syTop(v)} />
            <circle cx={sxA(w)} cy={syTop(v)} r={1.6} fill="#7d7d7d" stroke="none" />
          </g>
        ))}
      </g>
      <Series pts={vulcanA} sx={sxA} sy={syTop} color={COL.vulcan} />
      <Series pts={argoA} sx={sxA} sy={syTop} color={COL.argo} />
      <Series pts={kineticsA} sx={sxA} sy={syTop} color={COL.kinetics} />
      <Series pts={atmoA} sx={sxA} sy={syTop} color={COL.atmo} />
      <Axes sx={sxA} sy={syTop} xTicks={xTicksA} xMinor={d3.range(1.5, 5.41, 0.1)} fmt={f1} />
      <Chem s="H_2O" x={72} y={154} />
      <Chem s="H_2O" x={140} y={103} />
      <Chem s="SO_2" x={247} y={166} />
      <Chem s="CO_2" x={275} y={67} />
      <YTitle x={7} y={157.5} />
      <XTitle x={213} y={309} />

      {/* ---------------- b ---------------- */}
      <text x={403} y={20} fontSize={13} fontWeight="bold" fill={INK}>b</text>
      <LegLine x={518} y={5.5} color={COL.vulcan} width={3} opacity={0.55} />
      <LegText x={548} y={5.5} s="VULCAN" />
      <LegLine x={518} y={17.5} color={COL.kinetics} width={3} opacity={0.55} />
      <LegText x={548} y={17.5} s="KINETICS" />
      <LegLine x={638} y={5.5} color={COL.argo} width={3} opacity={0.55} />
      <LegText x={661} y={5.5} s="ARGO" />
      <LegLine x={638} y={17.5} color={COL.atmo} width={3} opacity={0.55} />
      <LegText x={661} y={17.5} s="ATMO" />
      <circle cx={518.5} cy={32.3} r={1.1} fill={COL.obs} />
      <LegText x={527} y={32.3} s="NIRSpec G395H (mean reduction)" />

      <g>
        {obsB.map(([w, v, e], i) => (
          <g key={i}>
            <line x1={sxB(w)} x2={sxB(w)} y1={syTop(v - e)} y2={syTop(v + e)} stroke="#bdbdbd" strokeWidth={0.9} />
            <circle cx={sxB(w)} cy={syTop(v)} r={1} fill="#8a8a8a" />
          </g>
        ))}
      </g>
      <Series pts={atmoB} sx={sxB} sy={syTop} color={COL.atmo} width={1.2} opacity={0.8} />
      <Series pts={kineticsB} sx={sxB} sy={syTop} color={COL.kinetics} width={1.2} opacity={0.9} />
      <Series pts={argoB} sx={sxB} sy={syTop} color={COL.argo} width={1.2} opacity={0.9} />
      <Series pts={vulcanB} sx={sxB} sy={syTop} color="#2a80b0" width={1.2} opacity={0.9} />
      <Axes sx={sxB} sy={syTop} xTicks={xTicksB} xMinor={d3.range(2.7, 5.21, 0.05)} fmt={f1} />
      <Chem s="SO_2" x={609} y={167} />
      <Chem s="CO_2" x={647} y={61} />
      <YTitle x={408.5} y={157.5} />
      <XTitle x={613} y={309} />

      {/* ---------------- c ---------------- */}
      <text x={0} y={341.5} fontSize={13} fontWeight="bold" fill={INK}>c</text>
      <LegLine x={94} y={335} color={COL.vulcan} dash="4,2" />
      <LegText x={118} y={335} s="VULCAN no S" />
      <LegLine x={94} y={347} color={COL.vulcan} />
      <LegText x={118} y={347} s="VULCAN" />
      <LegLine x={94} y={359.3} color={COL.kinetics} />
      <LegText x={118} y={359.3} s="KINETICS" />
      <LegLine x={212} y={335} color={COL.argo} />
      <LegText x={235} y={335} s="ARGO" />
      <LegLine x={212} y={347} color={COL.atmo} />
      <LegText x={235} y={347} s="ATMO" />
      <circle cx={220} cy={359.3} r={1.9} fill={COL.obs} />
      <LegText x={235} y={359.3} s="ref. 19" />

      <Series pts={vulcanNoS} sx={sxC} sy={syBot} color={COL.vulcan} dash="4,2" />
      <Series pts={zipGrid(waveC, vulcanC)} sx={sxC} sy={syBot} color={COL.vulcan} />
      <Series pts={zipGrid(waveC, kineticsC)} sx={sxC} sy={syBot} color={COL.kinetics} />
      <Series pts={zipGrid(waveC, argoC)} sx={sxC} sy={syBot} color={COL.argo} />
      <Series pts={zipGrid(waveC, atmoC)} sx={sxC} sy={syBot} color={COL.atmo} />
      <g>
        {obsC.map(([w, v, e, xe], i) => (
          <g key={i} stroke="#a3a3a3" strokeWidth={1.2}>
            <line x1={sxC(w)} x2={sxC(w)} y1={syBot(v - e)} y2={syBot(v + e)} />
            {xe > 0 && <line x1={sxC(w - xe)} x2={sxC(w + xe)} y1={syBot(v)} y2={syBot(v)} />}
            <circle cx={sxC(w)} cy={syBot(v)} r={1.9} fill="#7f7f7f" stroke="none" />
          </g>
        ))}
      </g>
      <Axes sx={sxC} sy={syBot} xTicks={xTicksC} xMinor={[]} fmt={f1} />
      <Chem s="SO" x={57} y={435} />
      <Chem s="SO_2" x={57} y={449} />
      <Chem s="H_2S" x={73} y={471} />
      <Chem s="S_2, SO_2" x={94} y={454} />
      <Chem s="SH" x={150} y={535} />
      <Chem s="Na" x={256} y={506} />
      <Chem s="K" x={310} y={505} />
      <YTitle x={6} y={483} />
      <XTitle x={205} y={639} />

      {/* ---------------- d ---------------- */}
      <text x={403} y={341.5} fontSize={13} fontWeight="bold" fill={INK}>d</text>
      <LegLine x={498} y={331.7} color={COL.vulcan} />
      <LegText x={527} y={331.7} s="VULCAN" />
      <LegLine x={498} y={346} color={COL.kinetics} />
      <LegText x={527} y={346} s="KINETICS" />
      <LegLine x={498} y={360.7} color={COL.argo} />
      <LegText x={527} y={360.7} s="ARGO" />
      <LegLine x={605} y={331.7} color={COL.atmo} />
      <LegText x={633} y={331.7} s="ATMO" />
      <LegLine x={605} y={346} color={COL.noSO2} width={2} />
      <LegText x={633} y={346} s="VULCAN no SO_2" />

      <Series pts={zipGrid(waveD, noSO2D)} sx={sxD} sy={syBot} color={COL.noSO2} width={1.3} />
      <Series pts={zipGrid(waveD, vulcanD)} sx={sxD} sy={syBot} color={COL.vulcan} />
      <Series pts={zipGrid(waveD, kineticsD)} sx={sxD} sy={syBot} color={COL.kinetics} />
      <Series pts={zipGrid(waveD, argoD)} sx={sxD} sy={syBot} color={COL.argo} />
      <Series pts={zipGrid(waveD, atmoD)} sx={sxD} sy={syBot} color={COL.atmo} />
      <Axes sx={sxD} sy={syBot} xTicks={xTicksD} xMinor={d3.range(5, 15.01, 0.1)} fmt={f0} />
      <Chem s="H_2O" x={472} y={475} />
      <Chem s="SO_2" x={522} y={419} />
      <Chem s="SO_2" x={564} y={466} />
      <Chem s="CO_2" x={733} y={501} />
      <YTitle x={408.5} y={482} />
      <XTitle x={610} y={639} />
    </svg>
  );
}
